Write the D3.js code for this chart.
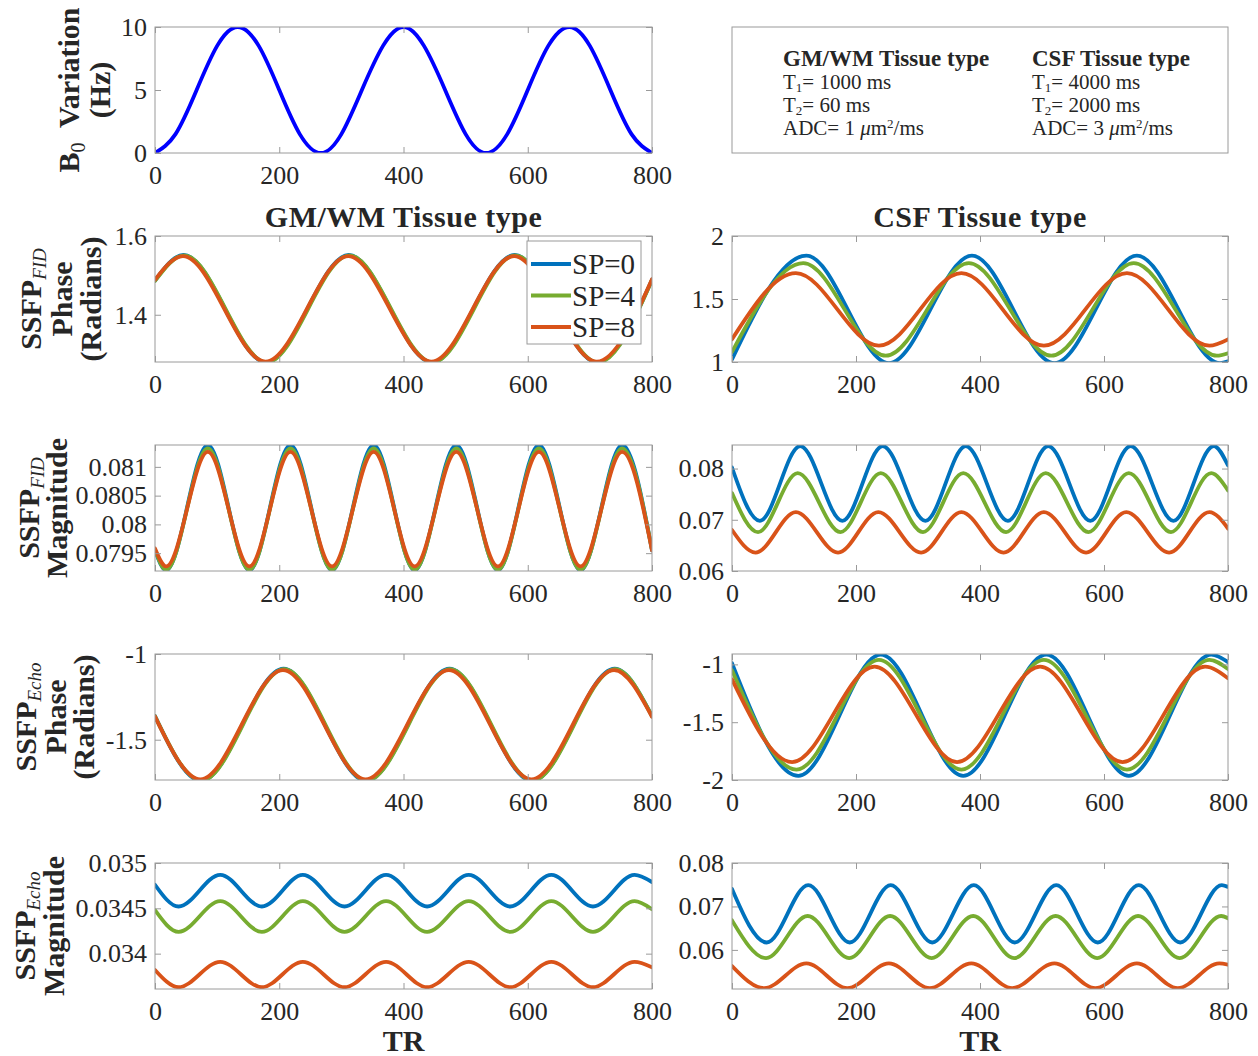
<!DOCTYPE html>
<html><head><meta charset="utf-8">
<script src="https://cdn.jsdelivr.net/npm/d3@7"></script>
<style>
body{margin:0;background:#fff}
svg text{font-family:"Liberation Serif","Times New Roman",serif;fill:#262626}
</style>
</head><body>
<svg id="chart" width="1258" height="1056"></svg>
<script>
// ---------------- DATA ----------------
const TR_TICKS = [0, 200, 400, 600, 800];
const SERIES_NAMES = ["SP=0", "SP=4", "SP=8"];
const SERIES_COLORS = ["#0072BD", "#77AC30", "#D95319"];
const B0_COLOR = "#0000FF";

// B0 variation (Hz) : [TR, value]
const b0Variation = [[0,0],[33,1.5],[67,5],[100,8.5],[133,10],[167,8.5],[200,5],[233,1.5],[267,0],[300,1.5],[333,5],[367,8.5],[400,10],[433,8.5],[467,5],[500,1.5],[533,0],[567,1.5],[600,5],[633,8.5],[667,10],[700,8.5],[733,5],[767,1.5],[800,0]];
const b0Ticks = [0, 5, 10];

// SSFP FID phase, GM/WM
const gmFidPhaseSP0 = [[0,1.487],[46,1.552],[179,1.279],[312,1.552],[446,1.279],[579,1.552],[712,1.279],[800,1.489]];
const gmFidPhaseSP4 = [[0,1.486],[47,1.551],[180,1.279],[313,1.551],[447,1.279],[580,1.551],[713,1.279],[800,1.488]];
const gmFidPhaseSP8 = [[0,1.489],[45,1.549],[178,1.281],[311,1.549],[445,1.281],[578,1.549],[711,1.281],[800,1.490]];
const gmFidPhaseTicks = [1.4, 1.6];

// SSFP FID phase, CSF
const csfFidPhaseSP0 = [[0,1.02],[120,1.845],[253,0.99],[387,1.845],[520,0.99],[653,1.845],[787,0.99],[800,1.005]];
const csfFidPhaseSP4 = [[0,1.08],[115,1.785],[248,1.05],[382,1.785],[515,1.05],[648,1.785],[782,1.05],[800,1.07]];
const csfFidPhaseSP8 = [[0,1.18],[103,1.705],[237,1.13],[370,1.705],[503,1.13],[637,1.705],[770,1.13],[800,1.18]];
const csfFidPhaseTicks = [1, 1.5, 2];

// SSFP FID magnitude, GM/WM
const gmFidMagSP0 = [[0,0.07955],[18,0.07920],[85,0.08138],[152,0.07920],[218,0.08138],[285,0.07920],[352,0.08138],[418,0.07920],[485,0.08138],[552,0.07920],[618,0.08138],[685,0.07920],[752,0.08138],[800,0.07955]];
const gmFidMagSP4 = [[0,0.07956],[18,0.07921],[85,0.08132],[152,0.07921],[218,0.08132],[285,0.07921],[352,0.08132],[418,0.07921],[485,0.08132],[552,0.07921],[618,0.08132],[685,0.07921],[752,0.08132],[800,0.07956]];
const gmFidMagSP8 = [[0,0.07958],[18,0.07927],[85,0.08126],[152,0.07927],[218,0.08126],[285,0.07927],[352,0.08126],[418,0.07927],[485,0.08126],[552,0.07927],[618,0.08126],[685,0.07927],[752,0.08126],[800,0.07955]];
const gmFidMagTicks = [0.0795, 0.08, 0.0805, 0.081];

// SSFP FID magnitude, CSF
const csfFidMagSP0 = [[0,0.0802],[45,0.0698],[110,0.0844],[178,0.0698],[243,0.0844],[312,0.0698],[377,0.0844],[445,0.0698],[510,0.0844],[578,0.0698],[643,0.0844],[712,0.0698],[777,0.0844],[800,0.0806]];
const csfFidMagSP4 = [[0,0.0752],[42,0.0676],[106,0.0791],[175,0.0676],[240,0.0791],[308,0.0676],[373,0.0791],[442,0.0676],[506,0.0791],[575,0.0676],[640,0.0791],[708,0.0676],[773,0.0791],[800,0.0757]];
const csfFidMagSP8 = [[0,0.0680],[38,0.0636],[103,0.0715],[171,0.0636],[236,0.0715],[305,0.0636],[370,0.0715],[438,0.0636],[503,0.0715],[571,0.0636],[636,0.0715],[705,0.0636],[770,0.0715],[800,0.0683]];
const csfFidMagTicks = [0.06, 0.07, 0.08];

// SSFP Echo phase, GM/WM
const gmEchoPhaseSP0 = [[0,-1.362],[74,-1.740],[207,-1.086],[340,-1.740],[474,-1.086],[607,-1.740],[740,-1.086],[800,-1.362]];
const gmEchoPhaseSP4 = [[0,-1.363],[75,-1.738],[208,-1.088],[341,-1.738],[475,-1.088],[608,-1.738],[741,-1.088],[800,-1.363]];
const gmEchoPhaseSP8 = [[0,-1.365],[73,-1.731],[206,-1.094],[339,-1.731],[473,-1.094],[606,-1.731],[739,-1.094],[800,-1.366]];
const gmEchoPhaseTicks = [-1.5, -1];

// SSFP Echo phase, CSF
const csfEchoPhaseSP0 = [[0,-0.99],[107,-1.965],[240,-0.915],[373,-1.965],[507,-0.915],[640,-1.965],[773,-0.915],[800,-0.98]];
const csfEchoPhaseSP4 = [[0,-1.05],[104,-1.910],[237,-0.960],[370,-1.910],[503,-0.960],[637,-1.910],[770,-0.960],[800,-1.04]];
const csfEchoPhaseSP8 = [[0,-1.13],[97,-1.845],[230,-1.020],[363,-1.845],[497,-1.020],[630,-1.845],[763,-1.020],[800,-1.12]];
const csfEchoPhaseTicks = [-2, -1.5, -1];

// SSFP Echo magnitude, GM/WM
const gmEchoMagSP0 = [[0,0.03476],[38,0.03452],[105,0.03487],[172,0.03452],[238,0.03487],[305,0.03452],[372,0.03487],[438,0.03452],[505,0.03487],[572,0.03452],[638,0.03487],[705,0.03452],[772,0.03487],[800,0.03479]];
const gmEchoMagSP4 = [[0,0.03448],[38,0.03424],[105,0.03458],[172,0.03424],[238,0.03458],[305,0.03424],[372,0.03458],[438,0.03424],[505,0.03458],[572,0.03424],[638,0.03458],[705,0.03424],[772,0.03458],[800,0.03449]];
const gmEchoMagSP8 = [[0,0.03382],[38,0.03363],[105,0.03391],[172,0.03363],[238,0.03391],[305,0.03363],[372,0.03391],[438,0.03363],[505,0.03391],[572,0.03363],[638,0.03391],[705,0.03363],[772,0.03391],[800,0.03385]];
const gmEchoMagTicks = [0.034, 0.0345, 0.035];

// SSFP Echo magnitude, CSF
const csfEchoMagSP0 = [[0,0.0740],[56,0.0617],[123,0.0749],[190,0.0617],[256,0.0749],[323,0.0617],[390,0.0749],[456,0.0617],[523,0.0749],[590,0.0617],[656,0.0749],[723,0.0617],[790,0.0749],[800,0.0745]];
const csfEchoMagSP4 = [[0,0.0668],[55,0.0581],[122,0.0678],[189,0.0581],[255,0.0678],[322,0.0581],[389,0.0678],[455,0.0581],[522,0.0678],[589,0.0581],[655,0.0678],[722,0.0581],[789,0.0678],[800,0.0673]];
const csfEchoMagSP8 = [[0,0.0563],[52,0.0512],[120,0.0569],[186,0.0512],[253,0.0569],[319,0.0512],[386,0.0569],[452,0.0512],[520,0.0569],[586,0.0512],[653,0.0569],[719,0.0512],[786,0.0569],[800,0.0566]];
const csfEchoMagTicks = [0.06, 0.07, 0.08];

const COLUMN_TITLES = ["GM/WM Tissue type", "CSF Tissue type"];
const X_LABEL = "TR";
const INFO_GM = ["GM/WM Tissue type", "1000", "60", "1"];
const INFO_CSF = ["CSF Tissue type", "4000", "2000", "3"];

// ---------------- LAYOUT ----------------
const svg = d3.select("#chart");
const COLS = [[155, 652], [732, 1228]];
const ROW_TOP = [27, 236, 445, 654, 863];
const ROW_H = 126;
const AXIS_COLOR = "#9a9a9a";
const TICK_FONT = 26;
const LW = 3.8;
let clipId = 0;

function drawPanel(col, row, yDomain, yTicks, series, colors, curve) {
  const [x0, x1] = COLS[col];
  const top = ROW_TOP[row], bottom = top + ROW_H;
  const x = d3.scaleLinear().domain([0, 800]).range([x0, x1]);
  const y = d3.scaleLinear().domain(yDomain).range([bottom, top]);
  const g = svg.append("g");
  const id = "clip" + (clipId++);
  g.append("clipPath").attr("id", id).append("rect")
    .attr("x", x0).attr("y", top).attr("width", x1 - x0).attr("height", ROW_H);

  const line = d3.line().x(d => x(d[0])).y(d => y(d[1])).curve(curve || d3.curveMonotoneX);
  const lg = g.append("g").attr("clip-path", `url(#${id})`);
  series.forEach((s, i) => {
    lg.append("path").attr("d", line(s)).attr("fill", "none")
      .attr("stroke", colors[i]).attr("stroke-width", LW)
      .attr("stroke-linejoin", "round").attr("stroke-linecap", "round");
  });

  const fmt = d => String(d);
  const axB = g.append("g").attr("transform", `translate(0,${bottom})`)
    .call(d3.axisBottom(x).tickValues(TR_TICKS).tickSizeInner(-6).tickSizeOuter(0).tickPadding(13).tickFormat(fmt));
  const axT = g.append("g").attr("transform", `translate(0,${top})`)
    .call(d3.axisTop(x).tickValues(TR_TICKS).tickSizeInner(-6).tickSizeOuter(0).tickFormat(""));
  const axL = g.append("g").attr("transform", `translate(${x0},0)`)
    .call(d3.axisLeft(y).tickValues(yTicks).tickSizeInner(-6).tickSizeOuter(0).tickPadding(8).tickFormat(fmt));
  const axR = g.append("g").attr("transform", `translate(${x1},0)`)
    .call(d3.axisRight(y).tickValues(yTicks).tickSizeInner(-6).tickSizeOuter(0).tickFormat(""));
  [axB, axT, axL, axR].forEach(a => {
    a.select(".domain").remove();
    a.selectAll("line").attr("stroke", AXIS_COLOR);
    a.selectAll("text").attr("font-size", TICK_FONT).attr("font-family", null).attr("fill", "#262626");
  });
  g.append("rect").attr("x", x0).attr("y", top).attr("width", x1 - x0).attr("height", ROW_H)
    .attr("fill", "none").attr("stroke", AXIS_COLOR).attr("stroke-width", 1);
  return {x, y, g};
}

function yLabel(row, lines) {
  const cy = ROW_TOP[row] + ROW_H / 2;
  lines.forEach(L => {
    const t = svg.append("text").attr("transform", `translate(${L.x},${cy}) rotate(-90)`)
      .attr("text-anchor", "middle").attr("font-weight", "bold").attr("font-size", 30);
    L.parts.forEach(p => {
      const ts = t.append("tspan").text(p[0]);
      if (p[1] === "sub") ts.attr("dy", 5).attr("font-size", 19).attr("font-style", "italic").attr("font-weight", "normal");
      if (p[1] === "sub0") ts.attr("dy", 6).attr("font-size", 20).attr("font-weight", "normal");
      if (p[1] === "after") ts.attr("dy", -6);
    });
  });
}

// ---------------- PANELS ----------------
drawPanel(0, 0, [0, 10], b0Ticks, [b0Variation], [B0_COLOR], d3.curveNatural);

drawPanel(0, 1, [1.28, 1.6], gmFidPhaseTicks, [gmFidPhaseSP0, gmFidPhaseSP4, gmFidPhaseSP8], SERIES_COLORS);
drawPanel(1, 1, [1, 2], csfFidPhaseTicks, [csfFidPhaseSP0, csfFidPhaseSP4, csfFidPhaseSP8], SERIES_COLORS);

drawPanel(0, 2, [0.07919, 0.08138], gmFidMagTicks, [gmFidMagSP0, gmFidMagSP4, gmFidMagSP8], SERIES_COLORS);
drawPanel(1, 2, [0.06, 0.0846], csfFidMagTicks, [csfFidMagSP0, csfFidMagSP4, csfFidMagSP8], SERIES_COLORS);

drawPanel(0, 3, [-1.735, -1], gmEchoPhaseTicks, [gmEchoPhaseSP0, gmEchoPhaseSP4, gmEchoPhaseSP8], SERIES_COLORS);
drawPanel(1, 3, [-2, -0.91], csfEchoPhaseTicks, [csfEchoPhaseSP0, csfEchoPhaseSP4, csfEchoPhaseSP8], SERIES_COLORS);

drawPanel(0, 4, [0.03361, 0.035], gmEchoMagTicks, [gmEchoMagSP0, gmEchoMagSP4, gmEchoMagSP8], SERIES_COLORS);
drawPanel(1, 4, [0.051, 0.08], csfEchoMagTicks, [csfEchoMagSP0, csfEchoMagSP4, csfEchoMagSP8], SERIES_COLORS);

// ---------------- LABELS ----------------
yLabel(0, [{x: 79, parts: [["B", ""], ["0", "sub0"], ["\u00A0 Variation", "after"]]}, {x: 110, parts: [["(Hz)", ""]]}]);
yLabel(1, [{x: 41, parts: [["SSFP", ""], ["FID", "sub"]]}, {x: 72, parts: [["Phase", ""]]}, {x: 101, parts: [["(Radians)", ""]]}]);
yLabel(2, [{x: 39, parts: [["SSFP", ""], ["FID", "sub"]]}, {x: 67, parts: [["Magnitude", ""]]}]);
yLabel(3, [{x: 36, parts: [["SSFP", ""], ["Echo", "sub"]]}, {x: 66, parts: [["Phase", ""]]}, {x: 94, parts: [["(Radians)", ""]]}]);
yLabel(4, [{x: 35, parts: [["SSFP", ""], ["Echo", "sub"]]}, {x: 64, parts: [["Magnitude", ""]]}]);

COLUMN_TITLES.forEach((t, i) => {
  const cx = (COLS[i][0] + COLS[i][1]) / 2;
  svg.append("text").attr("x", cx).attr("y", 227)
    .attr("text-anchor", "middle").attr("font-weight", "bold").attr("font-size", 30)
    .attr("letter-spacing", 0.5).text(t);
  svg.append("text").attr("x", cx).attr("y", 1051)
    .attr("text-anchor", "middle").attr("font-weight", "bold").attr("font-size", 30).text(X_LABEL);
});

// ---------------- LEGEND ----------------
const leg = svg.append("g");
leg.append("rect").attr("x", 527).attr("y", 241).attr("width", 114).attr("height", 103)
  .attr("fill", "#fff").attr("stroke", AXIS_COLOR);
SERIES_NAMES.forEach((n, i) => {
  const yy = 264 + i * 31.5;
  leg.append("line").attr("x1", 531).attr("x2", 571).attr("y1", yy).attr("y2", yy)
    .attr("stroke", SERIES_COLORS[i]).attr("stroke-width", LW);
  leg.append("text").attr("x", 572).attr("y", yy + 10).attr("font-size", 29).text(n);
});

// ---------------- INFO BOX ----------------
svg.append("rect").attr("x", 732).attr("y", 27).attr("width", 496).attr("height", 126)
  .attr("fill", "none").attr("stroke", AXIS_COLOR);
[[783, INFO_GM], [1032, INFO_CSF]].forEach(([ix, info]) => {
  svg.append("text").attr("x", ix).attr("y", 66).attr("font-weight", "bold").attr("font-size", 23).text(info[0]);
  [[89, "1", info[1]], [112, "2", info[2]]].forEach(([yy, sub, val]) => {
    const t = svg.append("text").attr("x", ix).attr("y", yy).attr("font-size", 21);
    t.append("tspan").text("T");
    t.append("tspan").attr("dy", 3).attr("font-size", 13).text(sub);
    t.append("tspan").attr("dy", -3).text("= " + val + " ms");
  });
  const t3 = svg.append("text").attr("x", ix).attr("y", 135).attr("font-size", 21);
  t3.append("tspan").text("ADC= " + info[3] + " ");
  t3.append("tspan").attr("font-style", "italic").text("\u03BC");
  t3.append("tspan").text("m");
  t3.append("tspan").attr("dy", -7).attr("font-size", 13).text("2");
  t3.append("tspan").attr("dy", 7).text("/ms");
});
</script>
</body></html>
